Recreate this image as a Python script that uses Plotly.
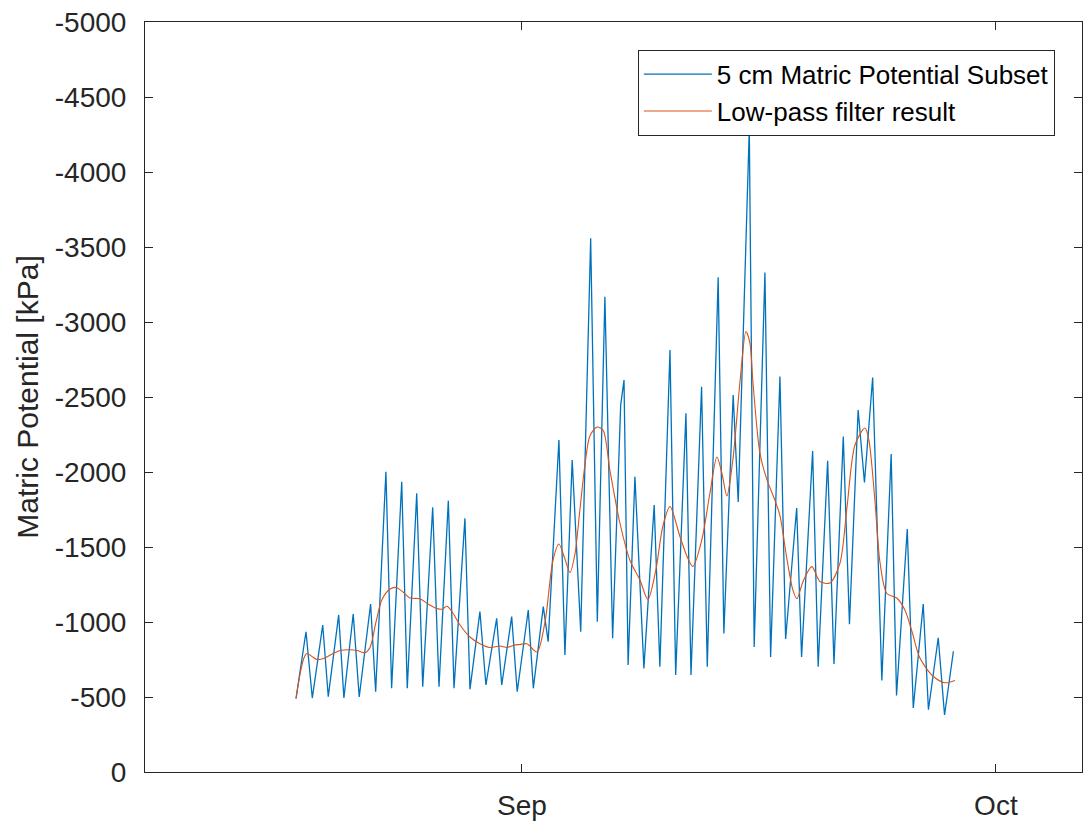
import pandas as pd
import plotly.graph_objects as go

# ---- data ----
# time positions are given in days relative to 1 September
base_date = "2016-09-01"

raw_days = [-14.30, -13.67, -13.27, -12.61, -12.26, -11.60, -11.27, -10.68, -10.30, -9.58,
            -9.26, -8.61, -8.25, -7.61, -7.26, -6.66, -6.28, -5.65, -5.25, -4.66,
            -4.30, -3.61, -3.29, -2.66, -2.28, -1.60, -1.28, -0.65, -0.30, 0.40,
            0.72, 1.35, 1.66, 2.34, 2.72, 3.18, 3.72, 4.35, 4.77, 5.25,
            5.74, 6.25, 6.46, 6.72, 7.15, 7.72, 8.37, 8.73, 9.37, 9.73,
            10.38, 10.70, 11.37, 11.73, 12.42, 12.78, 13.37, 13.69, 14.39, 14.70,
            15.38, 15.74, 16.33, 16.69, 17.39, 17.70, 18.40, 18.75, 19.35, 19.75,
            20.34, 20.73, 21.28, 21.68, 22.20, 22.50, 22.78, 23.37, 23.71, 24.39,
            24.77, 25.40, 25.73, 26.35, 26.75, 27.31]
raw_values = [-490, -935, -493, -980, -502, -1047, -493, -1053, -500, -1120,
              -535, -2002, -558, -1935, -558, -1858, -569, -1764, -569, -1809,
              -558, -1691, -551, -1069, -580, -1024, -580, -1036, -535, -1080,
              -558, -1102, -869, -2213, -780, -2080, -935, -3558, -1002, -3169,
              -891, -2447, -2613, -713, -1969, -691, -1780, -702, -2813, -647,
              -2391, -647, -2569, -702, -3298, -924, -2513, -1800, -4287, -833,
              -3330, -767, -2637, -887, -1760, -767, -2140, -702, -2075, -720,
              -2237, -985, -2413, -1930, -2630, -1630, -610, -2120, -510, -1620,
              -427, -1120, -415, -895, -380, -805]

lp_days = [-14.30, -14.05, -13.80, -13.61, -13.29, -12.97, -12.47, -11.96, -11.52, -10.89,
           -10.44, -9.94, -9.62, -9.24, -8.86, -8.35, -7.97, -7.53, -7.09, -6.46,
           -5.95, -5.38, -5.06, -4.75, -4.43, -3.92, -3.29, -2.66, -2.03, -1.39,
           -0.95, -0.51, -0.13, 0.32, 0.95, 1.46, 1.96, 2.34, 2.72, 3.04,
           3.35, 3.67, 3.99, 4.30, 4.75, 5.13, 5.57, 6.20, 6.84, 7.47,
           7.97, 8.48, 8.92, 9.37, 10.00, 10.44, 10.82, 11.39, 11.90, 12.34,
           12.66, 12.97, 13.35, 13.80, 14.18, 14.43, 14.62, 15.06, 15.51, 16.01,
           16.33, 16.77, 17.15, 17.41, 17.78, 18.35, 18.86, 19.49, 20.13, 20.57,
           21.08, 21.71, 21.96, 22.34, 22.66, 23.10, 23.73, 24.24, 24.68, 25.19,
           26.01, 26.77, 27.41]
lp_values = [-490, -650, -760, -790, -770, -750, -760, -790, -810, -815,
             -810, -795, -830, -1000, -1150, -1220, -1230, -1200, -1160, -1155,
             -1120, -1090, -1085, -1105, -1070, -980, -900, -855, -830, -840,
             -830, -845, -850, -855, -800, -1000, -1410, -1520, -1420, -1330,
             -1450, -1750, -2050, -2240, -2300, -2280, -2010, -1660, -1410, -1280,
             -1150, -1350, -1640, -1770, -1570, -1440, -1370, -1550, -1860, -2100,
             -1990, -1840, -2080, -2600, -2937, -2860, -2600, -2127, -1947, -1813,
             -1709, -1421, -1213, -1155, -1267, -1369, -1270, -1260, -1393, -1761,
             -2180, -2293, -2213, -1813, -1400, -1190, -1160, -1080, -940, -760,
             -640, -595, -610]

y_tick_values = [0, -500, -1000, -1500, -2000, -2500, -3000, -3500, -4000, -4500, -5000]
y_tick_labels = ["0", "-500", "-1000", "-1500", "-2000", "-2500", "-3000", "-3500",
                 "-4000", "-4500", "-5000"]
x_tick_dates = ["2016-09-01", "2016-10-01"]
x_tick_labels = ["Sep", "Oct"]

series_names = ["5 cm Matric Potential Subset", "Low-pass filter result"]
y_title = "Matric Potential [kPa]"

# ---- build ----
b = pd.Timestamp(base_date)
raw_x = [b + pd.Timedelta(days=d) for d in raw_days]
lp_x = [b + pd.Timedelta(days=d) for d in lp_days]
x_range = [b + pd.Timedelta(days=-23.86), b + pd.Timedelta(days=35.45)]

FONT = "Liberation Sans, Arial, Helvetica, sans-serif"
AX = "#262626"

fig = go.Figure()
fig.add_trace(go.Scatter(x=raw_x, y=raw_values, mode="lines", name=series_names[0],
                         line=dict(color="#0072BD", width=1.3)))
fig.add_trace(go.Scatter(x=lp_x, y=lp_values, mode="lines", name=series_names[1],
                         line=dict(color="#D95319", width=1.1, shape="spline", smoothing=0.8)))

fig.update_layout(
    width=1083, height=823,
    margin=dict(l=145, r=1, t=22, b=51),
    paper_bgcolor="white", plot_bgcolor="white",
    font=dict(family=FONT, color=AX, size=28),
    showlegend=True,
    legend=dict(x=0.526, y=0.963, xanchor="left", yanchor="top",
                bgcolor="white", bordercolor=AX, borderwidth=1,
                font=dict(family=FONT, size=26, color="#000000"),
                tracegroupgap=0, itemwidth=68),
)
fig.update_xaxes(
    type="date", range=x_range,
    tickvals=[pd.Timestamp(t) for t in x_tick_dates], ticktext=x_tick_labels,
    ticks="inside", ticklen=8, tickcolor=AX, tickwidth=1,
    showline=True, linecolor=AX, linewidth=1, mirror="ticks",
    showgrid=False, zeroline=False,
    tickfont=dict(size=28, color=AX, family=FONT),
    ticklabelstandoff=8,
)
fig.update_yaxes(
    range=[0, -5000],
    tickvals=y_tick_values, ticktext=y_tick_labels,
    ticks="inside", ticklen=8, tickcolor=AX, tickwidth=1,
    showline=True, linecolor=AX, linewidth=1, mirror="ticks",
    showgrid=False, zeroline=False,
    tickfont=dict(size=28, color=AX, family=FONT),
    ticklabelstandoff=12,
    title=dict(text=y_title, font=dict(size=30, color=AX, family=FONT), standoff=7),
)

fig.write_html("out.html")
